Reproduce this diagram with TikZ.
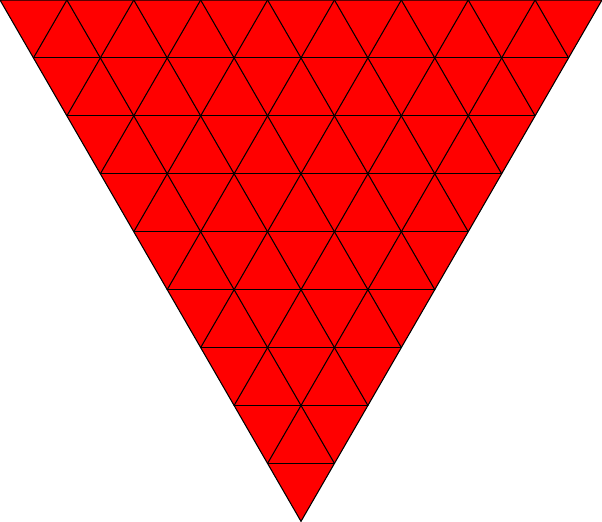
\documentclass[tikz,border=0pt]{standalone}
\usepackage{xcolor}
\definecolor{trired}{RGB}{255,0,0}
\usepackage{tikz}
\usetikzlibrary{calc}

\begin{document}
\begin{tikzpicture}[
  x=1cm, y=1cm,
  outer/.style={fill=trired, draw=black, line width=0.45pt},
  grid/.style={draw=black, line width=0.45pt, line cap=round}
]
  \def\n{9}
  \def\h{0.8660254}
  \useasboundingbox (0,0) rectangle (\n,-\n*\h);
  % corners
  \coordinate (tl) at (0,0);
  \coordinate (tr) at (\n,0);
  \coordinate (ap) at ({\n/2},{-\n*\h});
  \draw[outer] (tl) -- (tr) -- (ap) -- cycle;
  % rows
  \foreach \k in {1,...,8} {
    \coordinate (l\k) at ({\k/2},{-\k*\h});
    \coordinate (r\k) at ({\n-\k/2},{-\k*\h});
    \draw[grid] (l\k) -- (r\k);
  }
  % slanted lines
  \foreach \k in {1,...,8} {
    \coordinate (t\k) at (\k,0);
    \coordinate (dr\k) at ({\k+(\n-\k)/2},{-(\n-\k)*\h});
    \coordinate (dl\k) at ({\k/2},{-\k*\h});
    \draw[grid] (t\k) -- (dr\k);
    \draw[grid] (t\k) -- (dl\k);
  }
\end{tikzpicture}
\end{document}
